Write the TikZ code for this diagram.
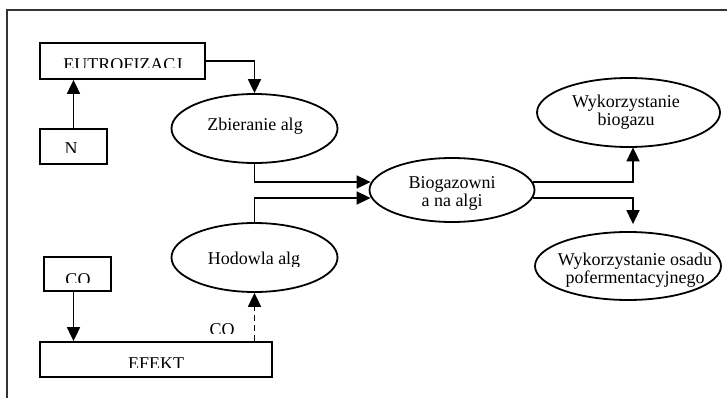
\documentclass[tikz,border=0pt]{standalone}
\usepackage{fontspec}
\setmainfont{Liberation Serif}
\usetikzlibrary{arrows.meta,shapes.geometric,calc}
\begin{document}
\begin{tikzpicture}[x=1pt,y=-1pt,
  boxshape/.style={draw,line width=1.8pt,rectangle,inner sep=0pt},
  ellshape/.style={draw,line width=1.8pt,ellipse,inner sep=0pt},
  lbl/.style={inner sep=0pt,font=\fontsize{18}{18}\selectfont,align=center,text=black},
  conn/.style={line width=1.8pt,-{Triangle[length=14pt,width=13pt]}},
  frameline/.style={line width=2.2pt,draw=black!80}]
\useasboundingbox (0,0) rectangle (727,398);
% frame
\draw[frameline] (7,398) -- (7,10) -- (727,10);
% boxes
\node[boxshape,minimum width=165pt,minimum height=36pt] (eut) at (122.5,61) {};
\node[boxshape,minimum width=67pt,minimum height=35pt] (n) at (73.5,146.5) {};
\node[boxshape,minimum width=67pt,minimum height=34pt] (co) at (77.5,274) {};
\node[boxshape,minimum width=232pt,minimum height=35pt] (efekt) at (156,359.5) {};
% ellipses
\node[ellshape,minimum width=166pt,minimum height=69pt] (zb) at (254.5,128.5) {};
\node[ellshape,minimum width=166pt,minimum height=69pt] (hod) at (254.5,257.5) {};
\node[ellshape,minimum width=165pt,minimum height=64pt] (bio) at (452,190) {};
\node[ellshape,minimum width=183pt,minimum height=69pt] (wb) at (628.5,112.5) {};
\node[ellshape,minimum width=186pt,minimum height=68pt] (wo) at (628,266) {};
% clipped texts
\begin{scope}
\clip (40,43) rectangle (205,68);
\node[lbl,anchor=base] (eutt) at (123,70.3) {EUTROFIZACJ};
\end{scope}
\begin{scope}
\clip (40,129) rectangle (107,153);
\node[lbl,anchor=base] (nt) at (71,155) {N};
\end{scope}
\begin{scope}
\clip (44,257) rectangle (111,282);
\node[lbl,anchor=base] (cot) at (78,285) {CO};
\end{scope}
\begin{scope}
\clip (40,342) rectangle (272,367);
\node[lbl,anchor=base] (efektt) at (156,369) {EFEKT};
\end{scope}
\begin{scope}
\clip (200,300) rectangle (245,333);
\node[lbl,anchor=base] (colbl) at (222,335) {CO};
\end{scope}
\begin{scope}
\clip (180,235) rectangle (330,266);
\node[lbl,anchor=base] (hodt) at (254,264) {Hodowla alg};
\end{scope}
% other texts
\node[lbl,anchor=base] (zbt) at (255,130.5) {Zbieranie alg};
\node[lbl,anchor=north] (biot) at (452,176.7) {Biogazowni\\a na algi};
\node[lbl,anchor=north] (wbt) at (626,94.7) {Wykorzystanie\\biogazu};
\node[lbl,anchor=north] (wot) at (635,252.7) {Wykorzystanie osadu\\pofermentacyjnego};
% connectors
\draw[conn] (n.north) -- (n.north |- eut.south);
\draw[conn] (eut.east) -| (zb.north);
\draw[conn] (zb.south) |- ($(bio.west)+(2,-8)$);
\draw[conn] (hod.north) |- ($(bio.west)+(2,8)$);
\draw[conn] ($(bio.east)+(-2,-8)$) -| ($(wb.south)+(4.5,-0.5)$);
\draw[conn] ($(bio.east)+(-2,8)$) -| ($(wo.north)+(5,-7)$);
\draw[conn] (co.south -| n.north) -- (n.north |- efekt.north);
\draw[conn,dash pattern=on 6pt off 4pt] (hod.south |- efekt.north) -- (hod.south);
\end{tikzpicture}
\end{document}
